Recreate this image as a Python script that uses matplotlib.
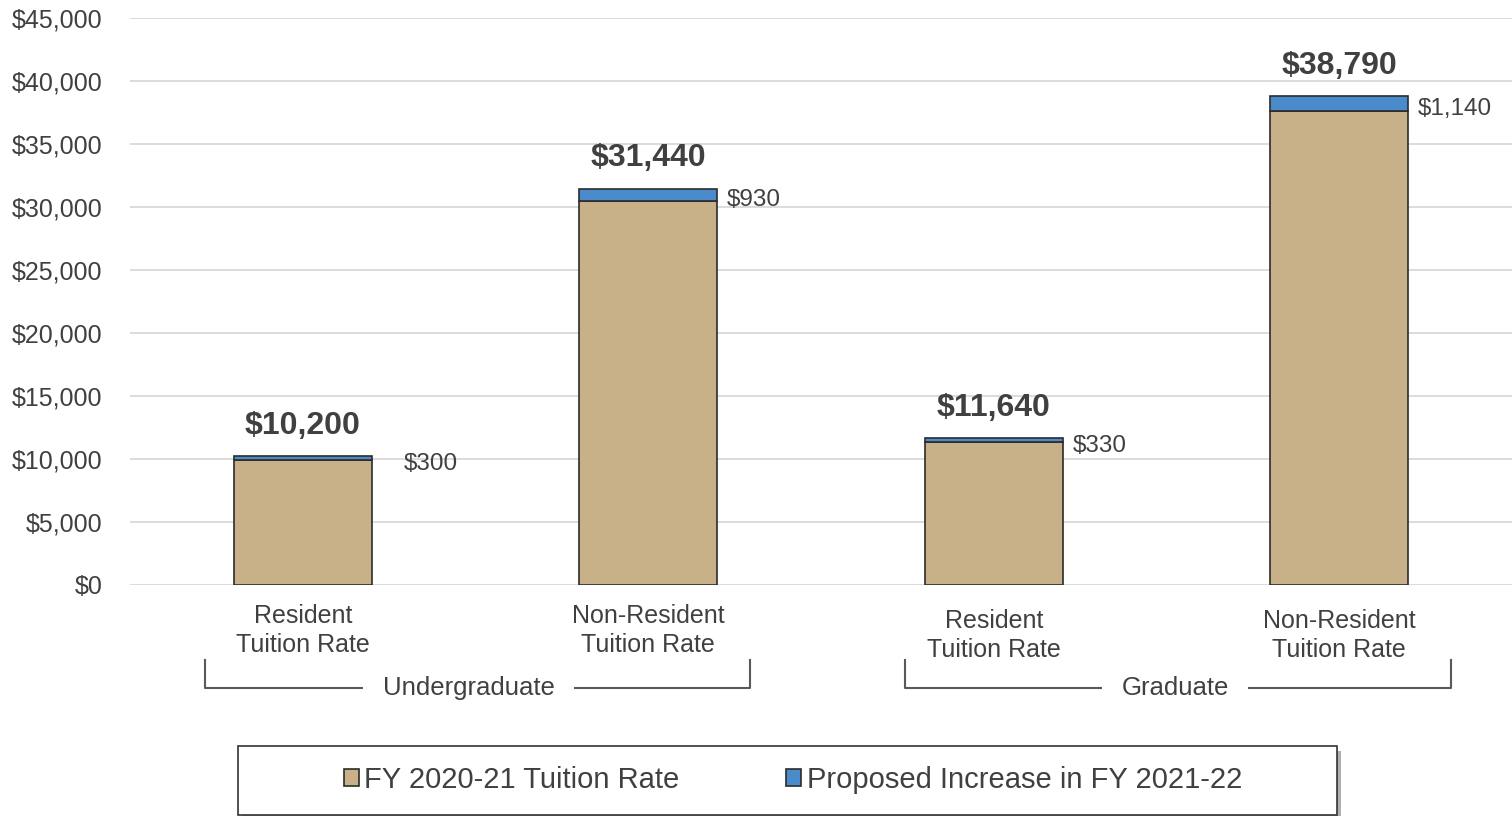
import matplotlib.pyplot as plt
from matplotlib.patches import Rectangle
from matplotlib.transforms import blended_transform_factory

plt.rcParams['font.family'] = ['Liberation Sans', 'DejaVu Sans']

# data
categories = ["Resident\nTuition Rate", "Non-Resident\nTuition Rate",
              "Resident\nTuition Rate", "Non-Resident\nTuition Rate"]
base_rate = [9900, 30510, 11310, 37650]
increase = [300, 930, 330, 1140]
totals = [10200, 31440, 11640, 38790]
groups = ["Undergraduate", "Graduate"]
yticks = list(range(0, 45001, 5000))

TAN = '#C8B088'
BLUE = '#4A8BCB'
EDGE = '#2b2b2b'
TXT = '#404040'

fig = plt.figure(figsize=(15.12, 8.16), dpi=100)
ax = fig.add_axes([130 / 1512, 1 - 585 / 816, 1 - 130 / 1512, 567 / 816])

x = list(range(len(categories)))
w = 0.4
ax.bar(x, base_rate, width=w, color=TAN, edgecolor=EDGE, linewidth=1.2,
       label="FY 2020-21 Tuition Rate", zorder=3)
ax.bar(x, increase, width=w, bottom=base_rate, color=BLUE, edgecolor=EDGE,
       linewidth=1.2, label="Proposed Increase in FY 2021-22", zorder=3)

ax.set_xlim(-0.5, 3.5)
ax.set_ylim(0, 45000)
ax.set_yticks(yticks)
ax.set_yticklabels([f"${v:,.0f}" for v in yticks], fontsize=18, color=TXT)
ax.tick_params(axis='y', length=0, pad=20)
ax.set_xticks([])
ax.grid(axis='y', color='#D9D9D9', linewidth=1.3, zorder=0)
for s in ax.spines.values():
    s.set_visible(False)

# totals and increase labels
inc_dx = [23, 7, 7, 7]
for i in x:
    ax.annotate(f"${totals[i]:,}", (i, totals[i]), xytext=(0, 22),
                textcoords='offset points', ha='center', va='center',
                fontsize=23, fontweight='bold', color=TXT)
    ax.annotate(f"${increase[i]:,}", (i + w / 2, base_rate[i] + increase[i] / 2),
                xytext=(inc_dx[i], -4), textcoords='offset points',
                ha='left', va='center', fontsize=17.5, color=TXT)

# category labels and group brackets
tr = blended_transform_factory(ax.transData, ax.transAxes)
cat_y = [-0.080, -0.080, -0.089, -0.089]
for i in x:
    ax.text(i, cat_y[i], categories[i], transform=tr, ha='center', va='center',
            fontsize=18, color=TXT, linespacing=1.28)

group_centers = [0.505, 2.533]
text_centers = [0.481, 2.525]
half = 0.789
y_top, y_bot = -0.132, -0.181
for g, c, tc in zip(groups, group_centers, text_centers):
    ax.plot([c - half, c - half, c + half, c + half], [y_top, y_bot, y_bot, y_top],
            transform=tr, color='#595959', linewidth=1.5, clip_on=False)
    ax.text(tc, y_bot, g, transform=tr, ha='center', va='center',
            fontsize=18.5, color=TXT,
            bbox=dict(facecolor='white', edgecolor='none', pad=14))

# legend box with shadow
fig.patches.append(Rectangle((242 / 1512, 1 - 820 / 816), 1099 / 1512, 69 / 816,
                             transform=fig.transFigure, facecolor='#b0b0b0',
                             edgecolor='none', zorder=0))
fig.patches.append(Rectangle((238 / 1512, 1 - 815 / 816), 1099 / 1512, 69 / 816,
                             transform=fig.transFigure, facecolor='white',
                             edgecolor='#333333', linewidth=1.2, zorder=1))
fig.legend(loc='center', bbox_to_anchor=(793 / 1512, 1 - 780 / 816), ncol=2,
           frameon=False, fontsize=21, handlelength=0.5, handleheight=0.5,
           handletextpad=0.2, columnspacing=3.65, labelcolor=TXT)

fig.savefig("out.png", dpi=100)
